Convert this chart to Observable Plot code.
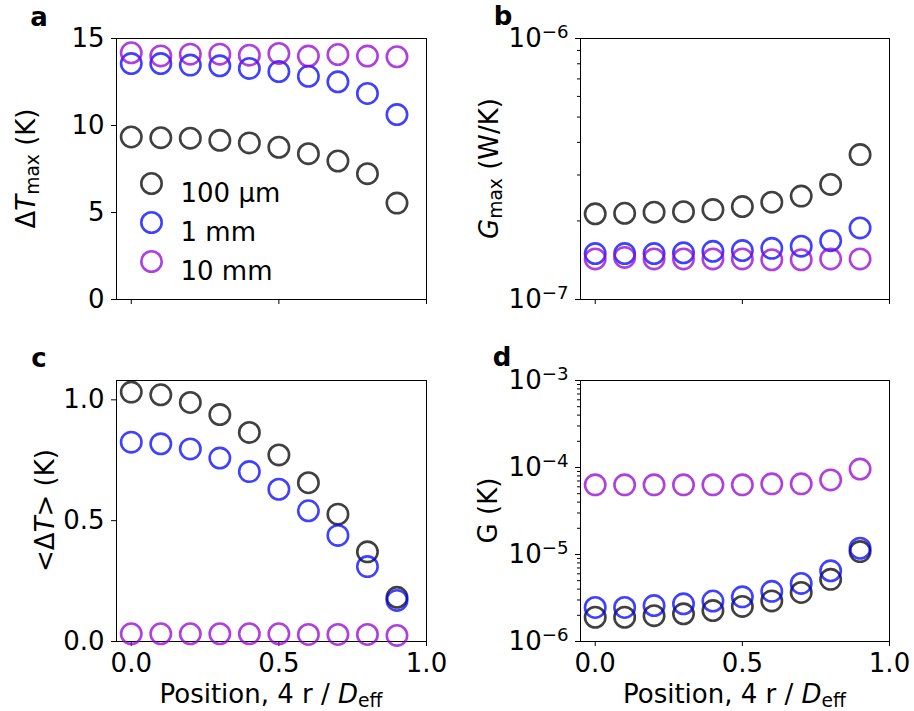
<!DOCTYPE html>
<html>
<head>
<meta charset="utf-8">
<script src="https://cdn.jsdelivr.net/npm/d3@7"></script>
<script src="https://cdn.jsdelivr.net/npm/@observablehq/plot@0.6"></script>
<style>
  html, body { margin: 0; padding: 0; background: #fff; }
  #figure { position: relative; width: 914px; height: 711px; background: #fff; }
  #figure svg { position: absolute; overflow: visible; }
</style>
</head>
<body>
<div id="figure"></div>
<script>
// Normalised probe position, 4 r / D_eff
const position = [0.0, 0.1, 0.2, 0.3, 0.4, 0.5, 0.6, 0.7, 0.8, 0.9];

// Legend entries and their colours (drawn at 75 % opacity)
const seriesNames = ["100 µm", "1 mm", "10 mm"];
const seriesColors = ["#000000", "#0000ff", "#9400d3"];

// (a) maximum temperature rise, K
const dTmax100um = [9.34, 9.30, 9.27, 9.15, 9.00, 8.75, 8.38, 7.96, 7.23, 5.54];
const dTmax1mm   = [13.56, 13.56, 13.47, 13.43, 13.28, 13.10, 12.83, 12.51, 11.84, 10.63];
const dTmax10mm  = [14.18, 14.00, 14.10, 14.10, 14.04, 14.14, 13.99, 14.08, 13.99, 13.95];

// (b) maximum conductance, W/K
const gMax100um = [2.13e-7, 2.14e-7, 2.16e-7, 2.17e-7, 2.21e-7, 2.27e-7, 2.36e-7, 2.49e-7, 2.76e-7, 3.59e-7];
const gMax1mm   = [1.50e-7, 1.50e-7, 1.50e-7, 1.51e-7, 1.53e-7, 1.54e-7, 1.57e-7, 1.60e-7, 1.68e-7, 1.88e-7];
const gMax10mm  = [1.43e-7, 1.45e-7, 1.43e-7, 1.43e-7, 1.43e-7, 1.43e-7, 1.42e-7, 1.42e-7, 1.43e-7, 1.43e-7];

// (c) mean temperature rise, K
const meanDT100um = [1.032, 1.021, 0.989, 0.939, 0.865, 0.772, 0.657, 0.527, 0.371, 0.183];
const meanDT1mm   = [0.825, 0.818, 0.797, 0.759, 0.703, 0.630, 0.541, 0.439, 0.310, 0.170];
const meanDT10mm  = [0.032, 0.032, 0.032, 0.032, 0.032, 0.032, 0.029, 0.029, 0.029, 0.025];

// (d) G, K
const g100um = [1.90e-6, 1.90e-6, 1.98e-6, 2.08e-6, 2.27e-6, 2.53e-6, 2.93e-6, 3.66e-6, 5.18e-6, 1.08e-5];
const g1mm   = [2.46e-6, 2.46e-6, 2.59e-6, 2.71e-6, 2.92e-6, 3.26e-6, 3.77e-6, 4.65e-6, 6.50e-6, 1.18e-5];
const g10mm  = [6.32e-5, 6.32e-5, 6.32e-5, 6.32e-5, 6.32e-5, 6.32e-5, 6.49e-5, 6.49e-5, 7.20e-5, 9.60e-5];

// Tick values
const xTicks = [0, 0.5, 1.0];
const yTicksA = [0, 5, 10, 15];
const yTicksB = [1e-7, 1e-6];
const yMinorB = [2e-7, 3e-7, 4e-7, 5e-7, 6e-7, 7e-7, 8e-7, 9e-7];
const yTicksC = [0, 0.5, 1.0];
const yTicksD = [1e-6, 1e-5, 1e-4, 1e-3];
const yMinorD = [1e-6, 1e-5, 1e-4].flatMap(b => [2, 3, 4, 5, 6, 7, 8, 9].map(k => k * b));

const FONT = "DejaVu Sans";
const FS = 26;
const PW = 457;

function tidy(arrays) {
  return arrays.flatMap((vals, i) =>
    position.map((p, j) => ({position: p, series: seriesNames[i], value: vals[j]})));
}

// Append text made of plain / italic / subscript pieces
function richText(sel, parts) {
  let shift = 0;
  for (const [str, kind] of parts) {
    const t = sel.append("tspan").text(str);
    const target = kind === "sub" ? 4 : 0;
    if (target !== shift) { t.attr("dy", (target - shift) + "px"); shift = target; }
    if (kind === "sub") t.attr("font-size", (FS * 0.72) + "px");
    if (kind === "it") t.attr("font-style", "italic");
  }
}

// Turn "10^-6" tick labels into a base with a raised exponent
function powerLabels(svg) {
  d3.select(svg).selectAll("text").each(function () {
    const s = this.textContent;
    if (!s.includes("^")) return;
    const [base, exp] = s.split("^");
    const sel = d3.select(this).text(null);
    sel.append("tspan").text(base);
    sel.append("tspan").attr("dy", "-9px").attr("font-size", (FS * 0.7) + "px").text(exp.replace("-", "\u2212"));
  });
}

function makePanel(cfg) {
  const rows = tidy(cfg.data);
  const marks = [
    Plot.frame({stroke: "black", strokeWidth: 1}),
    Plot.axisX({ticks: xTicks, tickSize: 5, tickPadding: 7, label: null,
      tickFormat: cfg.xLabels ? d3.format(".1f") : () => ""}),
    Plot.axisY({ticks: cfg.yTicks, tickSize: 5, tickPadding: 7, label: null, tickFormat: cfg.yFormat})
  ];
  if (cfg.minor) marks.push(Plot.axisY({ticks: cfg.minor, tickSize: 3, label: null, tickFormat: () => ""}));
  marks.push(Plot.dot(rows, {x: "position", y: "value", stroke: "series", r: 10.2,
    strokeWidth: 2.6, strokeOpacity: 0.75, fill: "none"}));
  if (cfg.legend) {
    seriesNames.forEach((name, i) => {
      marks.push(Plot.dot([name], {frameAnchor: "top-left", dx: 35, dy: 145 + 39 * i, r: 10.2,
        stroke: seriesColors[i], strokeWidth: 2.6, strokeOpacity: 0.75, fill: "none"}));
      marks.push(Plot.text([name], {frameAnchor: "top-left", dx: 64, dy: 145 + 39 * i,
        text: d => d, textAnchor: "start", fontSize: FS, fill: "black"}));
    });
  }
  const svg = Plot.plot({
    width: PW, height: cfg.height,
    marginLeft: cfg.mL, marginRight: cfg.mR, marginTop: cfg.mT, marginBottom: cfg.mB,
    x: {type: "linear", domain: [-0.05, 1.0]},
    y: {type: cfg.log ? "log" : "linear", domain: cfg.yDomain},
    color: {domain: seriesNames, range: seriesColors},
    style: {fontFamily: FONT, fontSize: FS + "px", color: "black", background: "transparent"},
    marks
  });
  svg.style.left = cfg.left + "px";
  svg.style.top = cfg.top + "px";
  powerLabels(svg);
  const root = d3.select(svg);
  const cy = cfg.mT + (cfg.height - cfg.mT - cfg.mB) / 2;
  const cx = cfg.mL + (PW - cfg.mL - cfg.mR) / 2;
  // y axis title
  richText(root.append("text")
    .attr("transform", `translate(${cfg.yTitleX},${cy}) rotate(-90)`)
    .attr("text-anchor", "middle").attr("font-size", FS + "px").attr("fill", "black"), cfg.yTitle);
  // x axis title
  if (cfg.xLabels) {
    richText(root.append("text")
      .attr("x", cx).attr("y", cfg.height - 8)
      .attr("text-anchor", "middle").attr("font-size", FS + "px").attr("fill", "black"),
      [["Position, 4 r / "], ["D", "it"], ["eff", "sub"]]);
  }
  // panel letter
  root.append("text").attr("x", cfg.tagX).attr("y", cfg.tagY)
    .attr("font-size", "26px").attr("font-weight", "bold").attr("fill", "black").text(cfg.tag);
  document.getElementById("figure").appendChild(svg);
}

const intFmt = d3.format("d");
const oneFmt = d3.format(".1f");
const powFmt = d => "10^" + Math.round(Math.log10(d));

makePanel({tag: "a", tagX: 39, tagY: 26, left: 0, top: 0, height: 340,
  mL: 116, mR: 31, mT: 38, mB: 41, xLabels: false, legend: true,
  data: [dTmax100um, dTmax1mm, dTmax10mm], yDomain: [0, 15], yTicks: yTicksA, yFormat: intFmt,
  yTitleX: 35, yTitle: [["Δ"], ["T", "it"], ["max", "sub"], [" (K)"]]});

makePanel({tag: "b", tagX: 46, tagY: 25, left: PW, top: 0, height: 340,
  mL: 123, mR: 25, mT: 38, mB: 41, xLabels: false, log: true,
  data: [gMax100um, gMax1mm, gMax10mm], yDomain: [1e-7, 1e-6], yTicks: yTicksB, minor: yMinorB, yFormat: powFmt,
  yTitleX: 41, yTitle: [["G", "it"], ["max", "sub"], [" (W/K)"]]});

makePanel({tag: "c", tagX: 39, tagY: 27, left: 0, top: 340, height: 371,
  mL: 116, mR: 31, mT: 40, mB: 70, xLabels: true,
  data: [meanDT100um, meanDT1mm, meanDT10mm], yDomain: [0, 1.08], yTicks: yTicksC, yFormat: oneFmt,
  yTitleX: 53.5, yTitle: [["<Δ"], ["T", "it"], ["> (K)"]]});

makePanel({tag: "d", tagX: 45, tagY: 26, left: PW, top: 340, height: 371,
  mL: 123, mR: 25, mT: 40, mB: 70, xLabels: true, log: true,
  data: [g100um, g1mm, g10mm], yDomain: [1e-6, 1e-3], yTicks: yTicksD, minor: yMinorD, yFormat: powFmt,
  yTitleX: 40, yTitle: [["G (K)"]]});
</script>
</body>
</html>
